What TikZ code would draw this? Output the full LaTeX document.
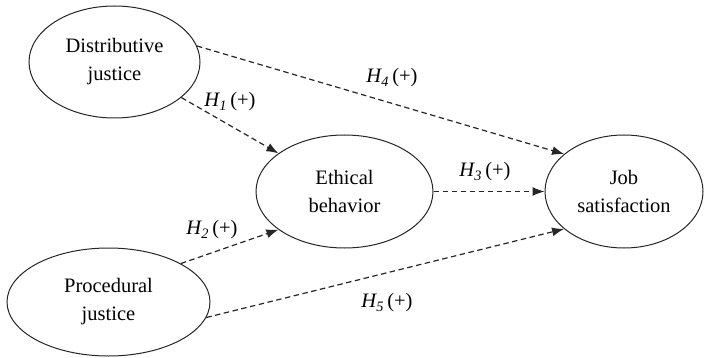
\documentclass[tikz,border=0pt]{standalone}
\usepackage{fontspec}
\setmainfont{Liberation Serif}
\usetikzlibrary{shapes.geometric,arrows.meta}
\tikzset{
  construct/.style={draw=black!85, line width=1pt, ellipse, inner sep=0pt, align=center,
    font=\fontsize{20.5}{28}\selectfont},
  path/.style={dash pattern=on 5.5pt off 3.5pt, line width=1.2pt, black!85,
    -{Latex[length=12pt,width=9pt]}},
  hyp/.style={font=\fontsize{20.5}{24}\selectfont, inner sep=0pt}
}
\newcommand{\hyplabel}[1]{\textit{H\textsubscript{#1}}\,(+)}
\begin{document}
\begin{tikzpicture}[x=1pt,y=-1pt]
\useasboundingbox (0,0) rectangle (708,358);
\node[construct, minimum width=171pt, minimum height=112pt] (dj) at (114.5,62) {Distributive\\justice};
\node[construct, minimum width=177pt, minimum height=113pt] (eb) at (344.5,191.5) {Ethical\\behavior};
\node[construct, minimum width=158pt, minimum height=113pt] (js) at (624,191.5) {Job\\satisfaction};
\node[construct, minimum width=203pt, minimum height=108pt] (pj) at (108.5,302) {Procedural\\justice};
\draw[path] (dj.11) -- (js.148);
\draw[path] (dj.-28) -- (eb.150);
\draw[path] (pj.28) -- (eb.210);
\draw[path] (eb.east) -- (js.west);
\draw[path] (pj.-9) -- (js.212);
\node[hyp] (h4) at (392,78) {\hyplabel{4}};
\node[hyp] (h1) at (230,102) {\hyplabel{1}};
\node[hyp] (h3) at (485,172) {\hyplabel{3}};
\node[hyp] (h2) at (212,230) {\hyplabel{2}};
\node[hyp] (h5) at (387,303) {\hyplabel{5}};
\end{tikzpicture}
\end{document}
